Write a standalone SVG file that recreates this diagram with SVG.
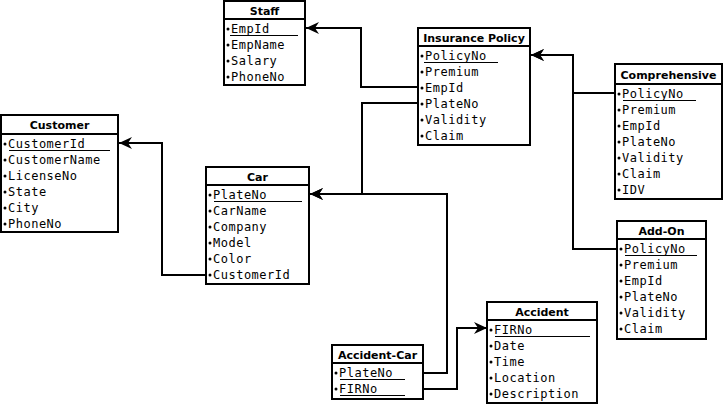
<svg xmlns="http://www.w3.org/2000/svg" width="724" height="406" viewBox="0 0 724 406">
<style>
.box{fill:#fff;stroke:#000;stroke-width:2}
.div{stroke:#000;stroke-width:2}
.t{font-family:"DejaVu Sans",sans-serif;font-weight:bold;font-size:11px;text-anchor:middle;fill:#000}
.r{font-family:"DejaVu Sans Mono",monospace;font-size:12px;letter-spacing:0.5px;fill:#000}
.u{stroke:#000;stroke-width:1}
.b{fill:#000}
.c{fill:none;stroke:#000;stroke-width:2}
</style>
<defs>
<marker id="arr" markerUnits="userSpaceOnUse" markerWidth="14" markerHeight="12" refX="13" refY="6" orient="auto">
<path d="M0,0 L13,6 L0,12 L4,6 z" fill="#000"/>
</marker>
</defs>
<rect width="724" height="406" fill="#fff"/>
<g id="connectors">
<path class="c" d="M418,87 H361 V28 H306" marker-end="url(#arr)"/>
<path class="c" d="M418,103 H362 V194 H310" marker-end="url(#arr)"/>
<path class="c" d="M423,373 H447 V194 H310" marker-end="url(#arr)"/>
<path class="c" d="M206,275 H162 V143 H119" marker-end="url(#arr)"/>
<path class="c" d="M615,93 H573 V55 H531" marker-end="url(#arr)"/>
<path class="c" d="M617,249 H573 V55 H531" marker-end="url(#arr)"/>
<path class="c" d="M423,389 H457 V328 H487" marker-end="url(#arr)"/>
</g>
<g id="staff">
<rect class="box" x="224" y="1" width="81" height="84"/>
<line class="div" x1="224" y1="19" x2="305" y2="19"/>
<text class="t" x="264.5" y="15">Staff</text>
<circle class="b" cx="228" cy="29" r="1.5"/><text class="r" x="231" y="33">EmpId</text>
<line class="u" x1="230" y1="35.5" x2="298" y2="35.5"/>
<circle class="b" cx="228" cy="45" r="1.5"/><text class="r" x="231" y="49">EmpName</text>
<circle class="b" cx="228" cy="61" r="1.5"/><text class="r" x="231" y="65">Salary</text>
<circle class="b" cx="228" cy="77" r="1.5"/><text class="r" x="231" y="81">PhoneNo</text>
</g>
<g id="insurance-policy">
<rect class="box" x="418" y="28" width="112" height="117"/>
<line class="div" x1="418" y1="46" x2="530" y2="46"/>
<text class="t" x="474" y="42">Insurance Policy</text>
<circle class="b" cx="422" cy="56" r="1.5"/><text class="r" x="425" y="60">PolicyNo</text>
<line class="u" x1="424" y1="62.5" x2="498" y2="62.5"/>
<circle class="b" cx="422" cy="72" r="1.5"/><text class="r" x="425" y="76">Premium</text>
<circle class="b" cx="422" cy="88" r="1.5"/><text class="r" x="425" y="92">EmpId</text>
<circle class="b" cx="422" cy="104" r="1.5"/><text class="r" x="425" y="108">PlateNo</text>
<circle class="b" cx="422" cy="120" r="1.5"/><text class="r" x="425" y="124">Validity</text>
<circle class="b" cx="422" cy="136" r="1.5"/><text class="r" x="425" y="140">Claim</text>
</g>
<g id="customer">
<rect class="box" x="1" y="115" width="117" height="117"/>
<line class="div" x1="1" y1="134" x2="118" y2="134"/>
<text class="t" x="59.5" y="129">Customer</text>
<circle class="b" cx="5" cy="144" r="1.5"/><text class="r" x="8" y="148">CustomerId</text>
<line class="u" x1="9" y1="150.5" x2="110" y2="150.5"/>
<circle class="b" cx="5" cy="160" r="1.5"/><text class="r" x="8" y="164">CustomerName</text>
<circle class="b" cx="5" cy="176" r="1.5"/><text class="r" x="8" y="180">LicenseNo</text>
<circle class="b" cx="5" cy="192" r="1.5"/><text class="r" x="8" y="196">State</text>
<circle class="b" cx="5" cy="208" r="1.5"/><text class="r" x="8" y="212">City</text>
<circle class="b" cx="5" cy="224" r="1.5"/><text class="r" x="8" y="228">PhoneNo</text>
</g>
<g id="car">
<rect class="box" x="206" y="167" width="103" height="117"/>
<line class="div" x1="206" y1="185" x2="309" y2="185"/>
<text class="t" x="257.5" y="181">Car</text>
<circle class="b" cx="210" cy="195" r="1.5"/><text class="r" x="213" y="199">PlateNo</text>
<line class="u" x1="214" y1="201.5" x2="302" y2="201.5"/>
<circle class="b" cx="210" cy="211" r="1.5"/><text class="r" x="213" y="215">CarName</text>
<circle class="b" cx="210" cy="227" r="1.5"/><text class="r" x="213" y="231">Company</text>
<circle class="b" cx="210" cy="243" r="1.5"/><text class="r" x="213" y="247">Model</text>
<circle class="b" cx="210" cy="259" r="1.5"/><text class="r" x="213" y="263">Color</text>
<circle class="b" cx="210" cy="275" r="1.5"/><text class="r" x="213" y="279">CustomerId</text>
</g>
<g id="comprehensive">
<rect class="box" x="615" y="64" width="107" height="135"/>
<line class="div" x1="615" y1="84" x2="722" y2="84"/>
<text class="t" x="668.5" y="79">Comprehensive</text>
<circle class="b" cx="619" cy="94" r="1.5"/><text class="r" x="622" y="98">PolicyNo</text>
<line class="u" x1="623" y1="100.5" x2="696" y2="100.5"/>
<circle class="b" cx="619" cy="110" r="1.5"/><text class="r" x="622" y="114">Premium</text>
<circle class="b" cx="619" cy="126" r="1.5"/><text class="r" x="622" y="130">EmpId</text>
<circle class="b" cx="619" cy="142" r="1.5"/><text class="r" x="622" y="146">PlateNo</text>
<circle class="b" cx="619" cy="158" r="1.5"/><text class="r" x="622" y="162">Validity</text>
<circle class="b" cx="619" cy="174" r="1.5"/><text class="r" x="622" y="178">Claim</text>
<circle class="b" cx="619" cy="190" r="1.5"/><text class="r" x="622" y="194">IDV</text>
</g>
<g id="add-on">
<rect class="box" x="617" y="221" width="89" height="118"/>
<line class="div" x1="617" y1="239" x2="706" y2="239"/>
<text class="t" x="661.5" y="235">Add-On</text>
<circle class="b" cx="621" cy="249" r="1.5"/><text class="r" x="624" y="253">PolicyNo</text>
<line class="u" x1="625" y1="255.5" x2="697" y2="255.5"/>
<circle class="b" cx="621" cy="265" r="1.5"/><text class="r" x="624" y="269">Premium</text>
<circle class="b" cx="621" cy="281" r="1.5"/><text class="r" x="624" y="285">EmpId</text>
<circle class="b" cx="621" cy="297" r="1.5"/><text class="r" x="624" y="301">PlateNo</text>
<circle class="b" cx="621" cy="313" r="1.5"/><text class="r" x="624" y="317">Validity</text>
<circle class="b" cx="621" cy="329" r="1.5"/><text class="r" x="624" y="333">Claim</text>
</g>
<g id="accident">
<rect class="box" x="487" y="302" width="110" height="101"/>
<line class="div" x1="487" y1="320" x2="597" y2="320"/>
<text class="t" x="542" y="316">Accident</text>
<circle class="b" cx="491" cy="330" r="1.5"/><text class="r" x="494" y="334">FIRNo</text>
<line class="u" x1="495" y1="336.5" x2="590" y2="336.5"/>
<circle class="b" cx="491" cy="346" r="1.5"/><text class="r" x="494" y="350">Date</text>
<circle class="b" cx="491" cy="362" r="1.5"/><text class="r" x="494" y="366">Time</text>
<circle class="b" cx="491" cy="378" r="1.5"/><text class="r" x="494" y="382">Location</text>
<circle class="b" cx="491" cy="394" r="1.5"/><text class="r" x="494" y="398">Description</text>
</g>
<g id="accident-car">
<rect class="box" x="332" y="345" width="91" height="54"/>
<line class="div" x1="332" y1="363" x2="423" y2="363"/>
<text class="t" x="377.5" y="359">Accident-Car</text>
<circle class="b" cx="336" cy="373" r="1.5"/><text class="r" x="339" y="377">PlateNo</text>
<line class="u" x1="340" y1="379.5" x2="405" y2="379.5"/>
<circle class="b" cx="336" cy="389" r="1.5"/><text class="r" x="339" y="393">FIRNo</text>
<line class="u" x1="340" y1="395.5" x2="405" y2="395.5"/>
</g>
</svg>
